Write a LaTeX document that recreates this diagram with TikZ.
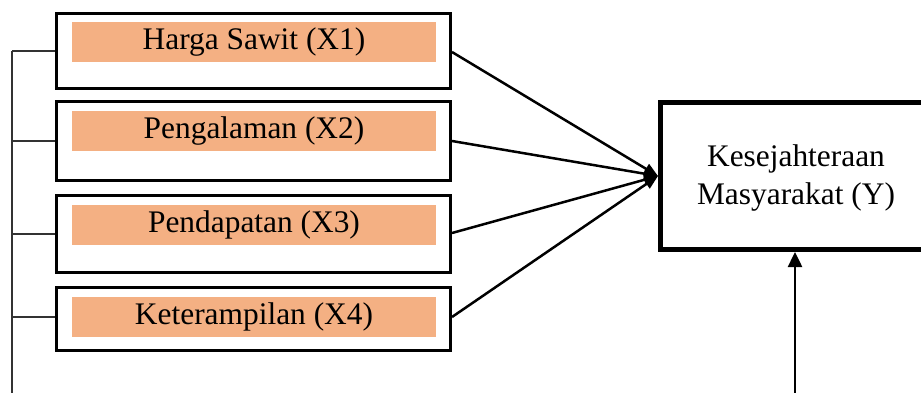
\documentclass[tikz,border=0pt]{standalone}
\usepackage{fontspec}
\setmainfont{Liberation Serif}
\usetikzlibrary{arrows.meta}
\definecolor{boxorange}{RGB}{244,176,131}
\tikzset{
  outerbox/.style={draw=black, line width=2.7pt, minimum width=394.3pt, inner sep=0pt},
  labelfill/.style={fill=boxorange, minimum width=364pt, minimum height=40pt, inner sep=0pt,
    font=\fontsize{31.4}{38.3}\selectfont},
  feed/.style={line width=2.5pt, -{Triangle[length=14pt,width=11pt]}},
  bracketline/.style={line width=1.3pt, draw=black!80},
}
\begin{document}
\begin{tikzpicture}[x=1pt,y=-1pt]
\clip (0,0) rectangle (921,392);
\fill[white] (0,0) rectangle (921,392);
% outer boxes
\node[outerbox, minimum height=75.3pt] (b1) at (253.5,51) {};
\node[outerbox, minimum height=79.3pt] (b2) at (253.5,141) {};
\node[outerbox, minimum height=77.3pt] (b3) at (253.5,234) {};
\node[outerbox, minimum height=63.3pt] (b4) at (253.5,319) {};
% orange labels
\node[labelfill] (l1) at (254,42) {Harga Sawit (X1)};
\node[labelfill] (l2) at (254,131) {Pengalaman (X2)};
\node[labelfill] (l3) at (254,224.5) {Pendapatan (X3)};
\node[labelfill] (l4) at (254,317) {Keterampilan (X4)};
% Y box
\node[draw=black, line width=5pt, minimum width=280pt, minimum height=147pt, inner sep=0pt, anchor=west] (Y) at (658,176) {};
\node[align=center, font=\fontsize{31.4}{38.3}\selectfont] (ytext) at (796,178) {Kesejahteraan\\Masyarakat (Y)};
% left bracket
\coordinate (btop) at (12,51);
\coordinate (bbot) at (12,395);
\draw[bracketline] (btop) -- (bbot);
\draw[bracketline] (btop) -- (b1.west |- btop);
\draw[bracketline] (12,141) -- (b2.west |- 0,141);
\draw[bracketline] (12,234) -- (b3.west |- 0,234);
\draw[bracketline] (12,317) -- (b4.west |- 0,317);
% arrows into Y
\draw[feed] (b1.east |- 0,52) -- (Y.west);
\draw[feed] (b2.east) -- (Y.west);
\draw[feed] (b3.east |- 0,233) -- (Y.west);
\draw[feed] (b4.east |- 0,317) -- (Y.west);
% bottom arrow
\coordinate (ybot) at (795,395);
\draw[line width=2.5pt, -{Triangle[length=15pt,width=14pt]}] (ybot) -- (ybot |- Y.south);
\end{tikzpicture}
\end{document}
